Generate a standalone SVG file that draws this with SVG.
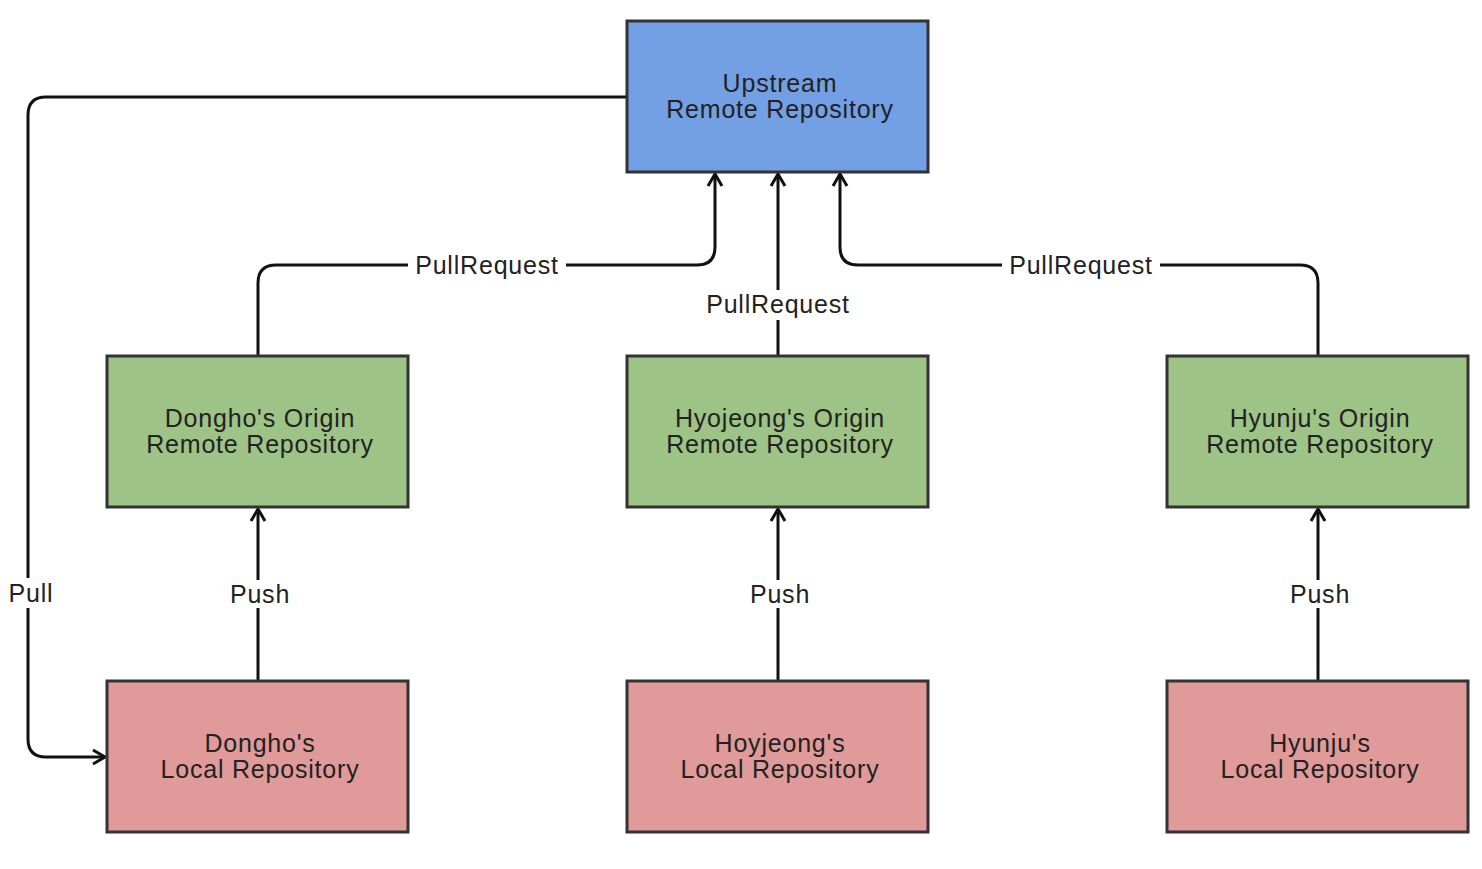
<svg xmlns="http://www.w3.org/2000/svg" width="1482" height="869" viewBox="0 0 1482 869">
<style>
.box{stroke:#333333;stroke-width:3}
.up{fill:#739fe4}
.org{fill:#9dc386}
.loc{fill:#df9a99}
.t{font-family:"Liberation Sans",Arial,sans-serif;font-size:25px;letter-spacing:0.8px;fill:#222222;text-anchor:middle}
.c{fill:none;stroke:#111111;stroke-width:3;stroke-linejoin:round}
.lbl{font-family:"Liberation Sans",Arial,sans-serif;font-size:25px;letter-spacing:0.8px;fill:#222222;text-anchor:middle;dominant-baseline:central}
.bg{fill:#ffffff}
</style>
<defs>
<marker id="arr" viewBox="0 0 20 20" refX="17" refY="10" markerWidth="20" markerHeight="20" markerUnits="userSpaceOnUse" orient="auto">
<path d="M5 3 L17 10 L5 17" fill="none" stroke="#111111" stroke-width="3"/>
</marker>
</defs>
<rect width="1482" height="869" fill="#ffffff"/>
<g id="connectors">
<path class="c" d="M627 97 H46 Q28 97 28 115 V739 Q28 757 46 757 H105" marker-end="url(#arr)"/>
<path class="c" d="M258 681 V509" marker-end="url(#arr)"/>
<path class="c" d="M778 681 V509" marker-end="url(#arr)"/>
<path class="c" d="M1318 681 V509" marker-end="url(#arr)"/>
<path class="c" d="M258 356 V283 Q258 265 276 265 H697 Q715 265 715 247 V174" marker-end="url(#arr)"/>
<path class="c" d="M778 356 V174" marker-end="url(#arr)"/>
<path class="c" d="M1318 356 V283 Q1318 265 1300 265 H858 Q840 265 840 247 V174" marker-end="url(#arr)"/>
<rect class="bg" x="6" y="578" width="50" height="30"/>
<text class="lbl" x="31" y="593">Pull</text>
<rect class="bg" x="224" y="580" width="72" height="28"/>
<text class="lbl" x="260" y="594">Push</text>
<rect class="bg" x="744" y="580" width="72" height="28"/>
<text class="lbl" x="780" y="594">Push</text>
<rect class="bg" x="1284" y="580" width="72" height="28"/>
<text class="lbl" x="1320" y="594">Push</text>
<rect class="bg" x="408" y="250" width="158" height="30"/>
<text class="lbl" x="487" y="265">PullRequest</text>
<rect class="bg" x="700" y="290" width="156" height="30"/>
<text class="lbl" x="778" y="304">PullRequest</text>
<rect class="bg" x="1002" y="250" width="158" height="30"/>
<text class="lbl" x="1081" y="265">PullRequest</text>
</g>
<g id="upstream">
<rect class="box up" x="627" y="21" width="301" height="151"/>
<text class="t" x="780" y="92">Upstream</text>
<text class="t" x="780" y="118">Remote Repository</text>
</g>
<g id="dongho-origin">
<rect class="box org" x="107" y="356" width="301" height="151"/>
<text class="t" x="260" y="427">Dongho's Origin</text>
<text class="t" x="260" y="453">Remote Repository</text>
</g>
<g id="hyojeong-origin">
<rect class="box org" x="627" y="356" width="301" height="151"/>
<text class="t" x="780" y="427">Hyojeong's Origin</text>
<text class="t" x="780" y="453">Remote Repository</text>
</g>
<g id="hyunju-origin">
<rect class="box org" x="1167" y="356" width="301" height="151"/>
<text class="t" x="1320" y="427">Hyunju's Origin</text>
<text class="t" x="1320" y="453">Remote Repository</text>
</g>
<g id="dongho-local">
<rect class="box loc" x="107" y="681" width="301" height="151"/>
<text class="t" x="260" y="752">Dongho's</text>
<text class="t" x="260" y="778">Local Repository</text>
</g>
<g id="hoyjeong-local">
<rect class="box loc" x="627" y="681" width="301" height="151"/>
<text class="t" x="780" y="752">Hoyjeong's</text>
<text class="t" x="780" y="778">Local Repository</text>
</g>
<g id="hyunju-local">
<rect class="box loc" x="1167" y="681" width="301" height="151"/>
<text class="t" x="1320" y="752">Hyunju's</text>
<text class="t" x="1320" y="778">Local Repository</text>
</g>
</svg>
